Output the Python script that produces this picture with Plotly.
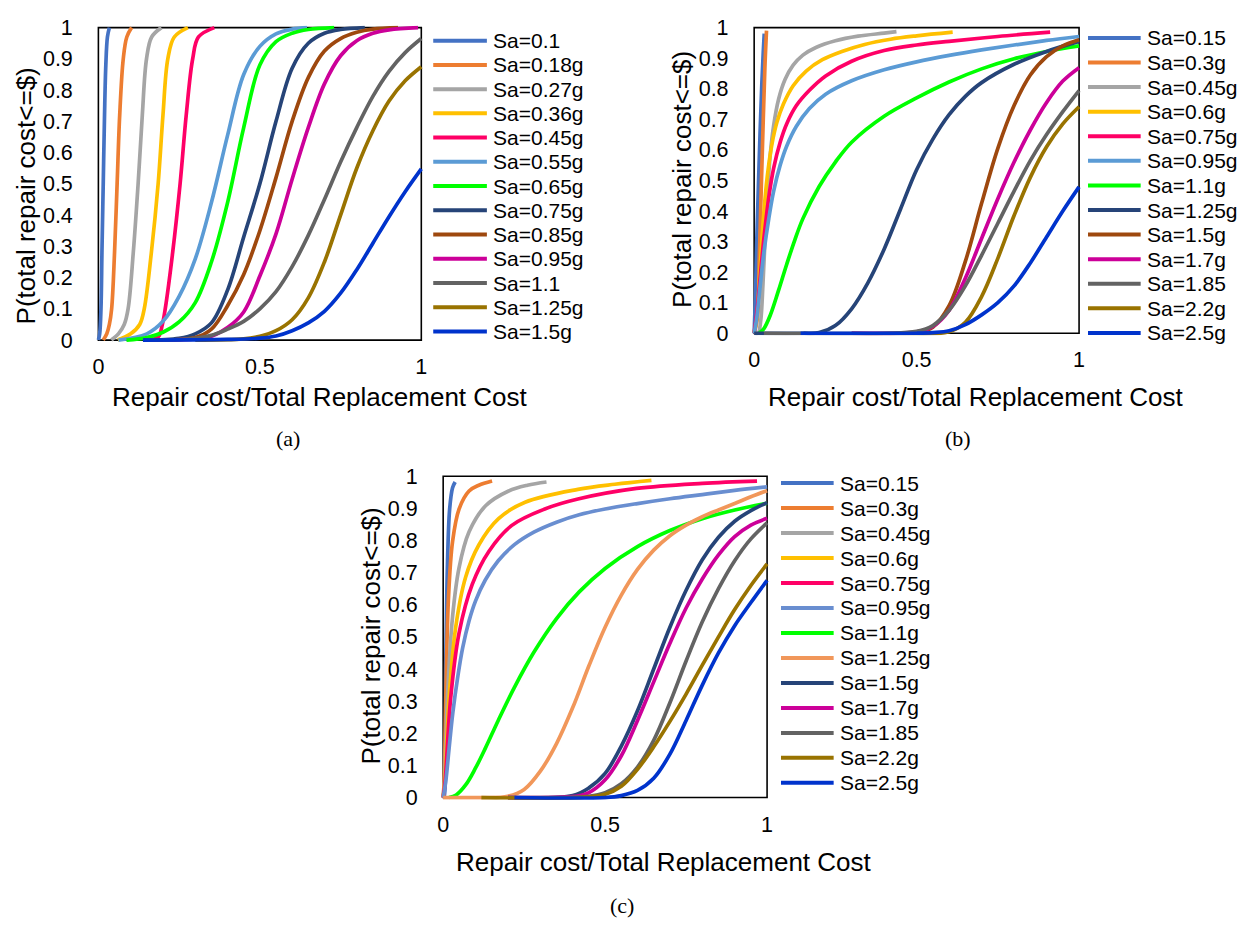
import plotly.graph_objects as go

FIG_W, FIG_H = 1249, 929

# ---------------------------------------------------------------- tick labels
x_tick_vals = [0, 0.5, 1]
x_tick_text = ["0", "0.5", "1"]
y_tick_vals = [0, 0.1, 0.2, 0.3, 0.4, 0.5, 0.6, 0.7, 0.8, 0.9, 1]
y_tick_text = ["0", "0.1", "0.2", "0.3", "0.4", "0.5", "0.6", "0.7", "0.8", "0.9", "1"]

x_title = "Repair cost/Total Replacement Cost"
y_title = "P(total repair cost<=$)"

# ---------------------------------------------------------------- panel (a)
a_labels = ["Sa=0.1", "Sa=0.18g", "Sa=0.27g", "Sa=0.36g", "Sa=0.45g", "Sa=0.55g",
            "Sa=0.65g", "Sa=0.75g", "Sa=0.85g", "Sa=0.95g", "Sa=1.1", "Sa=1.25g", "Sa=1.5g"]
a_colors = ["#4472C4", "#ED7D31", "#A5A5A5", "#FFC000", "#FF0066", "#5B9BD5",
            "#00FF00", "#264478", "#9E480E", "#CC0099", "#636363", "#997300", "#0033CC"]
a_x = [
    [0.0, 0.004, 0.008, 0.011, 0.015, 0.019, 0.023, 0.028, 0.034],
    [0.015, 0.026, 0.034, 0.041, 0.050, 0.058, 0.066, 0.077, 0.088, 0.103],
    [0.040, 0.062, 0.080, 0.092, 0.108, 0.123, 0.136, 0.149, 0.165, 0.195],
    [0.060, 0.100, 0.128, 0.142, 0.164, 0.185, 0.200, 0.215, 0.235, 0.277],
    [0.150, 0.185, 0.198, 0.207, 0.230, 0.253, 0.272, 0.292, 0.310, 0.359],
    [0.062, 0.15, 0.20, 0.25, 0.30, 0.35, 0.40, 0.45, 0.50, 0.55, 0.60, 0.646],
    [0.087, 0.15, 0.20, 0.25, 0.30, 0.35, 0.40, 0.45, 0.50, 0.55, 0.60, 0.65, 0.73],
    [0.14, 0.25, 0.30, 0.35, 0.40, 0.45, 0.50, 0.55, 0.60, 0.65, 0.70, 0.75, 0.825],
    [0.16, 0.30, 0.35, 0.40, 0.45, 0.50, 0.55, 0.60, 0.65, 0.70, 0.75, 0.80, 0.85, 0.928],
    [0.20, 0.30, 0.35, 0.40, 0.45, 0.50, 0.55, 0.60, 0.65, 0.70, 0.75, 0.80, 0.85, 0.90, 0.99],
    [0.20, 0.30, 0.35, 0.40, 0.45, 0.50, 0.55, 0.60, 0.65, 0.70, 0.75, 0.80, 0.85, 0.90, 0.95, 1.0],
    [0.30, 0.45, 0.50, 0.55, 0.60, 0.65, 0.70, 0.75, 0.80, 0.85, 0.90, 0.95, 1.0],
    [0.138, 0.40, 0.50, 0.55, 0.60, 0.65, 0.70, 0.75, 0.80, 0.85, 0.90, 0.95, 1.0],
]
a_y = [
    [0.0, 0.02, 0.10, 0.28, 0.50, 0.72, 0.88, 0.97, 1.0],
    [0.0, 0.02, 0.05, 0.10, 0.28, 0.50, 0.72, 0.90, 0.97, 1.0],
    [0.0, 0.02, 0.05, 0.10, 0.28, 0.50, 0.72, 0.90, 0.97, 1.0],
    [0.0, 0.02, 0.05, 0.10, 0.28, 0.50, 0.72, 0.90, 0.97, 1.0],
    [0.0, 0.01, 0.05, 0.10, 0.28, 0.50, 0.72, 0.90, 0.97, 1.0],
    [0.0, 0.02, 0.06, 0.14, 0.26, 0.44, 0.655, 0.85, 0.94, 0.98, 0.995, 1.0],
    [0.0, 0.008, 0.025, 0.058, 0.12, 0.25, 0.44, 0.68, 0.88, 0.955, 0.982, 0.994, 1.0],
    [0.0, 0.006, 0.02, 0.055, 0.16, 0.33, 0.50, 0.70, 0.87, 0.95, 0.982, 0.994, 1.0],
    [0.0, 0.008, 0.035, 0.11, 0.21, 0.35, 0.52, 0.70, 0.84, 0.925, 0.965, 0.985, 0.995, 1.0],
    [0.0, 0.004, 0.012, 0.04, 0.09, 0.205, 0.34, 0.515, 0.68, 0.82, 0.91, 0.958, 0.982, 0.993, 1.0],
    [0.0, 0.006, 0.015, 0.035, 0.06, 0.10, 0.155, 0.235, 0.335, 0.45, 0.57, 0.68, 0.78, 0.86, 0.92, 0.965],
    [0.0, 0.004, 0.012, 0.03, 0.065, 0.135, 0.25, 0.40, 0.55, 0.67, 0.765, 0.83, 0.875],
    [0.0, 0.002, 0.006, 0.013, 0.03, 0.055, 0.092, 0.15, 0.225, 0.31, 0.395, 0.475, 0.548],
]

# ---------------------------------------------------------------- panel (b)
b_labels = ["Sa=0.15", "Sa=0.3g", "Sa=0.45g", "Sa=0.6g", "Sa=0.75g", "Sa=0.95g",
            "Sa=1.1g", "Sa=1.25g", "Sa=1.5g", "Sa=1.7g", "Sa=1.85", "Sa=2.2g", "Sa=2.5g"]
b_colors = ["#4472C4", "#ED7D31", "#A5A5A5", "#FFC000", "#FF0066", "#5B9BD5",
            "#00FF00", "#264478", "#9E480E", "#CC0099", "#636363", "#997300", "#0033CC"]
b_x = [
    [0.0, 0.004, 0.008, 0.013, 0.018, 0.023, 0.028, 0.031],
    [0.0, 0.010, 0.016, 0.022, 0.028, 0.033, 0.038],
    [0.0, 0.012, 0.020, 0.027, 0.034, 0.041, 0.050, 0.060, 0.075, 0.095, 0.12, 0.15, 0.19, 0.25, 0.32, 0.40, 0.438],
    [0.0, 0.008, 0.016, 0.028, 0.040, 0.055, 0.070, 0.090, 0.12, 0.16, 0.21, 0.27, 0.34, 0.42, 0.50, 0.611],
    [0.0, 0.010, 0.020, 0.030, 0.045, 0.060, 0.080, 0.10, 0.13, 0.17, 0.22, 0.30, 0.40, 0.50, 0.60, 0.75, 0.911],
    [0.0, 0.008, 0.018, 0.030, 0.045, 0.060, 0.080, 0.10, 0.13, 0.17, 0.22, 0.30, 0.40, 0.50, 0.60, 0.70, 0.80, 0.90, 1.0],
    [0.015, 0.03, 0.05, 0.075, 0.10, 0.125, 0.15, 0.20, 0.25, 0.30, 0.40, 0.50, 0.60, 0.70, 0.80, 0.90, 1.0],
    [0.0, 0.15, 0.20, 0.25, 0.30, 0.35, 0.40, 0.45, 0.50, 0.55, 0.60, 0.65, 0.70, 0.80, 0.90, 1.0],
    [0.30, 0.50, 0.55, 0.60, 0.65, 0.70, 0.75, 0.80, 0.85, 0.90, 0.95, 1.0],
    [0.30, 0.50, 0.55, 0.60, 0.65, 0.70, 0.75, 0.80, 0.85, 0.90, 0.95, 1.0],
    [0.03, 0.40, 0.50, 0.55, 0.60, 0.65, 0.70, 0.75, 0.80, 0.85, 0.90, 0.95, 1.0],
    [0.45, 0.60, 0.65, 0.70, 0.75, 0.80, 0.85, 0.90, 0.95, 1.0],
    [0.143, 0.50, 0.55, 0.60, 0.65, 0.70, 0.75, 0.80, 0.85, 0.90, 0.95, 1.0],
]
b_y = [
    [0.0, 0.12, 0.30, 0.48, 0.65, 0.80, 0.92, 0.98],
    [0.0, 0.05, 0.25, 0.48, 0.70, 0.87, 0.99],
    [0.0, 0.0, 0.04, 0.16, 0.32, 0.46, 0.59, 0.68, 0.765, 0.83, 0.877, 0.91, 0.935, 0.957, 0.972, 0.982, 0.987],
    [0.0, 0.05, 0.17, 0.37, 0.51, 0.62, 0.69, 0.75, 0.81, 0.858, 0.895, 0.922, 0.945, 0.962, 0.973, 0.985],
    [0.0, 0.085, 0.20, 0.31, 0.445, 0.54, 0.625, 0.685, 0.745, 0.795, 0.842, 0.89, 0.925, 0.943, 0.955, 0.971, 0.985],
    [0.0, 0.05, 0.15, 0.265, 0.375, 0.465, 0.55, 0.612, 0.677, 0.735, 0.782, 0.826, 0.862, 0.888, 0.909, 0.927, 0.943, 0.958, 0.971],
    [0.0, 0.015, 0.06, 0.14, 0.225, 0.305, 0.375, 0.48, 0.56, 0.625, 0.71, 0.77, 0.822, 0.865, 0.898, 0.922, 0.94],
    [0.0, 0.0, 0.002, 0.025, 0.08, 0.165, 0.275, 0.405, 0.535, 0.635, 0.715, 0.775, 0.82, 0.88, 0.922, 0.955],
    [0.0, 0.003, 0.02, 0.09, 0.235, 0.425, 0.605, 0.745, 0.845, 0.905, 0.94, 0.96],
    [0.0, 0.005, 0.022, 0.075, 0.18, 0.31, 0.44, 0.56, 0.665, 0.755, 0.825, 0.869],
    [0.0, 0.0, 0.006, 0.025, 0.075, 0.155, 0.255, 0.36, 0.465, 0.565, 0.65, 0.725, 0.794],
    [0.0, 0.005, 0.036, 0.12, 0.245, 0.385, 0.51, 0.61, 0.685, 0.741],
    [0.0, 0.0, 0.002, 0.008, 0.028, 0.06, 0.10, 0.155, 0.23, 0.315, 0.40, 0.479],
]

# ---------------------------------------------------------------- panel (c)
c_labels = ["Sa=0.15", "Sa=0.3g", "Sa=0.45g", "Sa=0.6g", "Sa=0.75g", "Sa=0.95g",
            "Sa=1.1g", "Sa=1.25g", "Sa=1.5g", "Sa=1.7g", "Sa=1.85", "Sa=2.2g", "Sa=2.5g"]
c_colors = ["#4472C4", "#ED7D31", "#A5A5A5", "#FFC000", "#FF0066", "#698ED0",
            "#00FF00", "#F1975A", "#264478", "#CC0099", "#636363", "#997300", "#0033CC"]
c_x = [
    [0.0, 0.003, 0.008, 0.013, 0.020, 0.029, 0.037],
    [0.0, 0.003, 0.008, 0.016, 0.029, 0.049, 0.080, 0.110, 0.151],
    [0.0, 0.004, 0.013, 0.029, 0.049, 0.080, 0.131, 0.202, 0.260, 0.319],
    [0.0, 0.005, 0.018, 0.039, 0.069, 0.110, 0.171, 0.253, 0.416, 0.530, 0.643],
    [0.0, 0.006, 0.023, 0.049, 0.090, 0.141, 0.212, 0.314, 0.416, 0.597, 0.800, 0.969],
    [0.0, 0.008, 0.018, 0.030, 0.045, 0.060, 0.080, 0.10, 0.13, 0.17, 0.22, 0.28, 0.35, 0.42, 0.50, 0.60, 0.70, 0.80, 0.90, 1.0],
    [0.018, 0.04, 0.07, 0.10, 0.13, 0.17, 0.22, 0.28, 0.35, 0.42, 0.50, 0.60, 0.70, 0.80, 0.90, 1.0],
    [0.0, 0.118, 0.20, 0.25, 0.30, 0.35, 0.40, 0.45, 0.50, 0.55, 0.60, 0.65, 0.70, 0.75, 0.80, 0.85, 0.90, 0.95, 1.0],
    [0.20, 0.40, 0.45, 0.50, 0.55, 0.60, 0.65, 0.70, 0.75, 0.80, 0.85, 0.90, 0.95, 1.0],
    [0.20, 0.42, 0.45, 0.50, 0.55, 0.60, 0.65, 0.70, 0.75, 0.80, 0.85, 0.90, 0.95, 1.0],
    [0.20, 0.45, 0.50, 0.55, 0.60, 0.65, 0.70, 0.75, 0.80, 0.85, 0.90, 0.95, 1.0],
    [0.118, 0.42, 0.50, 0.55, 0.60, 0.65, 0.70, 0.75, 0.80, 0.85, 0.90, 0.95, 1.0],
    [0.22, 0.50, 0.55, 0.60, 0.65, 0.70, 0.75, 0.80, 0.85, 0.90, 0.95, 1.0],
]
c_y = [
    [0.0, 0.003, 0.41, 0.715, 0.898, 0.964, 0.982],
    [0.0, 0.05, 0.308, 0.613, 0.797, 0.898, 0.954, 0.972, 0.985],
    [0.0, 0.05, 0.308, 0.563, 0.715, 0.827, 0.908, 0.954, 0.972, 0.982],
    [0.0, 0.05, 0.308, 0.532, 0.685, 0.786, 0.868, 0.919, 0.959, 0.975, 0.987],
    [0.0, 0.05, 0.308, 0.512, 0.664, 0.766, 0.847, 0.898, 0.929, 0.962, 0.978, 0.985],
    [0.0, 0.05, 0.15, 0.265, 0.375, 0.465, 0.55, 0.612, 0.677, 0.737, 0.787, 0.826, 0.857, 0.88, 0.898, 0.915, 0.93, 0.943, 0.956, 0.967],
    [0.0, 0.008, 0.04, 0.092, 0.153, 0.24, 0.343, 0.452, 0.557, 0.64, 0.713, 0.781, 0.831, 0.868, 0.895, 0.916],
    [0.0, 0.0, 0.004, 0.025, 0.082, 0.168, 0.28, 0.41, 0.53, 0.63, 0.71, 0.77, 0.815, 0.848, 0.874, 0.895, 0.915, 0.936, 0.955],
    [0.0, 0.006, 0.03, 0.075, 0.16, 0.27, 0.40, 0.53, 0.645, 0.74, 0.81, 0.86, 0.893, 0.918],
    [0.0, 0.005, 0.015, 0.055, 0.13, 0.24, 0.36, 0.48, 0.59, 0.68, 0.755, 0.812, 0.848, 0.869],
    [0.0, 0.004, 0.015, 0.043, 0.095, 0.178, 0.295, 0.425, 0.547, 0.65, 0.737, 0.805, 0.855],
    [0.0, 0.0, 0.01, 0.035, 0.088, 0.158, 0.237, 0.322, 0.412, 0.50, 0.585, 0.66, 0.727],
    [0.0, 0.0, 0.006, 0.022, 0.06, 0.135, 0.24, 0.35, 0.45, 0.535, 0.607, 0.676],
]

# ---------------------------------------------------------------- layout (pixels)
SANS = "Liberation Sans, Arial, sans-serif"
SERIF = "Liberation Serif, Times New Roman, serif"
INK = "#000000"
PAD = 0.007          # range padding so curves lying on the frame are not clipped
TICK_SIZE = 21.5
TITLE_SIZE = 26
LEGEND_SIZE = 21
CURVE_WIDTH = 3.7

panels = [
    dict(labels=a_labels, colors=a_colors, xs=a_x, ys=a_y,
         box=(95, 420, 19, 338), leg=(432, 486, 491, 32.3, 24.75),
         xt=(318, 396), yt=(22.5, 191), tag=("(a)", 286, 438)),
    dict(labels=b_labels, colors=b_colors, xs=b_x, ys=b_y,
         box=(755, 1082, 19, 331), leg=(1091, 1144, 1149, 29.5, 25.1),
         xt=(978, 396), yt=(683, 174), tag=("(b)", 960, 438)),
    dict(labels=c_labels, colors=c_colors, xs=c_x, ys=c_y,
         box=(442, 768, 477, 805), leg=(782, 835, 840, 484, 25.5),
         xt=(664, 871), yt=(369, 640), tag=("(c)", 622, 915)),
]


def fx(px):
    return px / FIG_W


def fy(py):
    return 1 - py / FIG_H


fig = go.Figure()
shapes, annotations = [], []

for i, p in enumerate(panels):
    sfx = "" if i == 0 else str(i + 1)
    L, R, T, B = p["box"]
    w, h = R - L, B - T

    for lab, col, xs, ys in zip(p["labels"], p["colors"], p["xs"], p["ys"]):
        fig.add_trace(go.Scatter(
            x=xs, y=ys, mode="lines", name=lab, showlegend=False,
            xaxis="x" + sfx, yaxis="y" + sfx, hoverinfo="skip",
            line=dict(color=col, width=CURVE_WIDTH, shape="spline", smoothing=1.0),
        ))

    common = dict(showgrid=False, zeroline=False, showline=False,
                  ticks="outside", tickcolor="rgba(0,0,0,0)",
                  tickfont=dict(family=SANS, size=TICK_SIZE, color=INK),
                  range=[-PAD, 1 + PAD], fixedrange=True)
    fig.layout["xaxis" + sfx] = dict(
        common, anchor="y" + sfx, ticklen=5,
        domain=[fx(L - PAD * w), fx(R + PAD * w)],
        tickvals=x_tick_vals, ticktext=x_tick_text)
    fig.layout["yaxis" + sfx] = dict(
        common, anchor="x" + sfx, ticklen=18,
        domain=[fy(B + PAD * h), fy(T - PAD * h)],
        tickvals=y_tick_vals, ticktext=y_tick_text)

    # plot-area frame
    shapes.append(dict(type="rect", xref="x" + sfx, yref="y" + sfx,
                       x0=0, x1=1, y0=0, y1=1, layer="below",
                       line=dict(color=INK, width=1.6)))

    # legend
    lx0, lx1, tx, ly0, dy = p["leg"]
    for k, (lab, col) in enumerate(zip(p["labels"], p["colors"])):
        yy = ly0 + k * dy
        shapes.append(dict(type="line", xref="paper", yref="paper",
                           x0=fx(lx0), x1=fx(lx1), y0=fy(yy), y1=fy(yy),
                           line=dict(color=col, width=4)))
        annotations.append(dict(x=fx(tx), y=fy(yy), xref="paper", yref="paper",
                                text=lab, showarrow=False, xanchor="left",
                                yanchor="middle", borderpad=0,
                                font=dict(family=SANS, size=LEGEND_SIZE, color=INK)))

    # axis titles and panel tag
    annotations.append(dict(x=fx(p["xt"][0]), y=fy(p["xt"][1]), xref="paper", yref="paper",
                            text=x_title, showarrow=False, xanchor="center", yanchor="middle",
                            font=dict(family=SANS, size=TITLE_SIZE, color=INK)))
    annotations.append(dict(x=fx(p["yt"][0]), y=fy(p["yt"][1]), xref="paper", yref="paper",
                            text=y_title, showarrow=False, textangle=-90,
                            xanchor="center", yanchor="middle",
                            font=dict(family=SANS, size=TITLE_SIZE, color=INK)))
    annotations.append(dict(x=fx(p["tag"][1]), y=fy(p["tag"][2]), xref="paper", yref="paper",
                            text=p["tag"][0], showarrow=False, xanchor="center", yanchor="middle",
                            font=dict(family=SERIF, size=22, color=INK)))

fig.update_layout(
    width=FIG_W, height=FIG_H,
    margin=dict(l=0, r=0, t=0, b=0),
    paper_bgcolor="white", plot_bgcolor="white",
    shapes=shapes, annotations=annotations,
    showlegend=False,
)

fig.write_html("out.html")
